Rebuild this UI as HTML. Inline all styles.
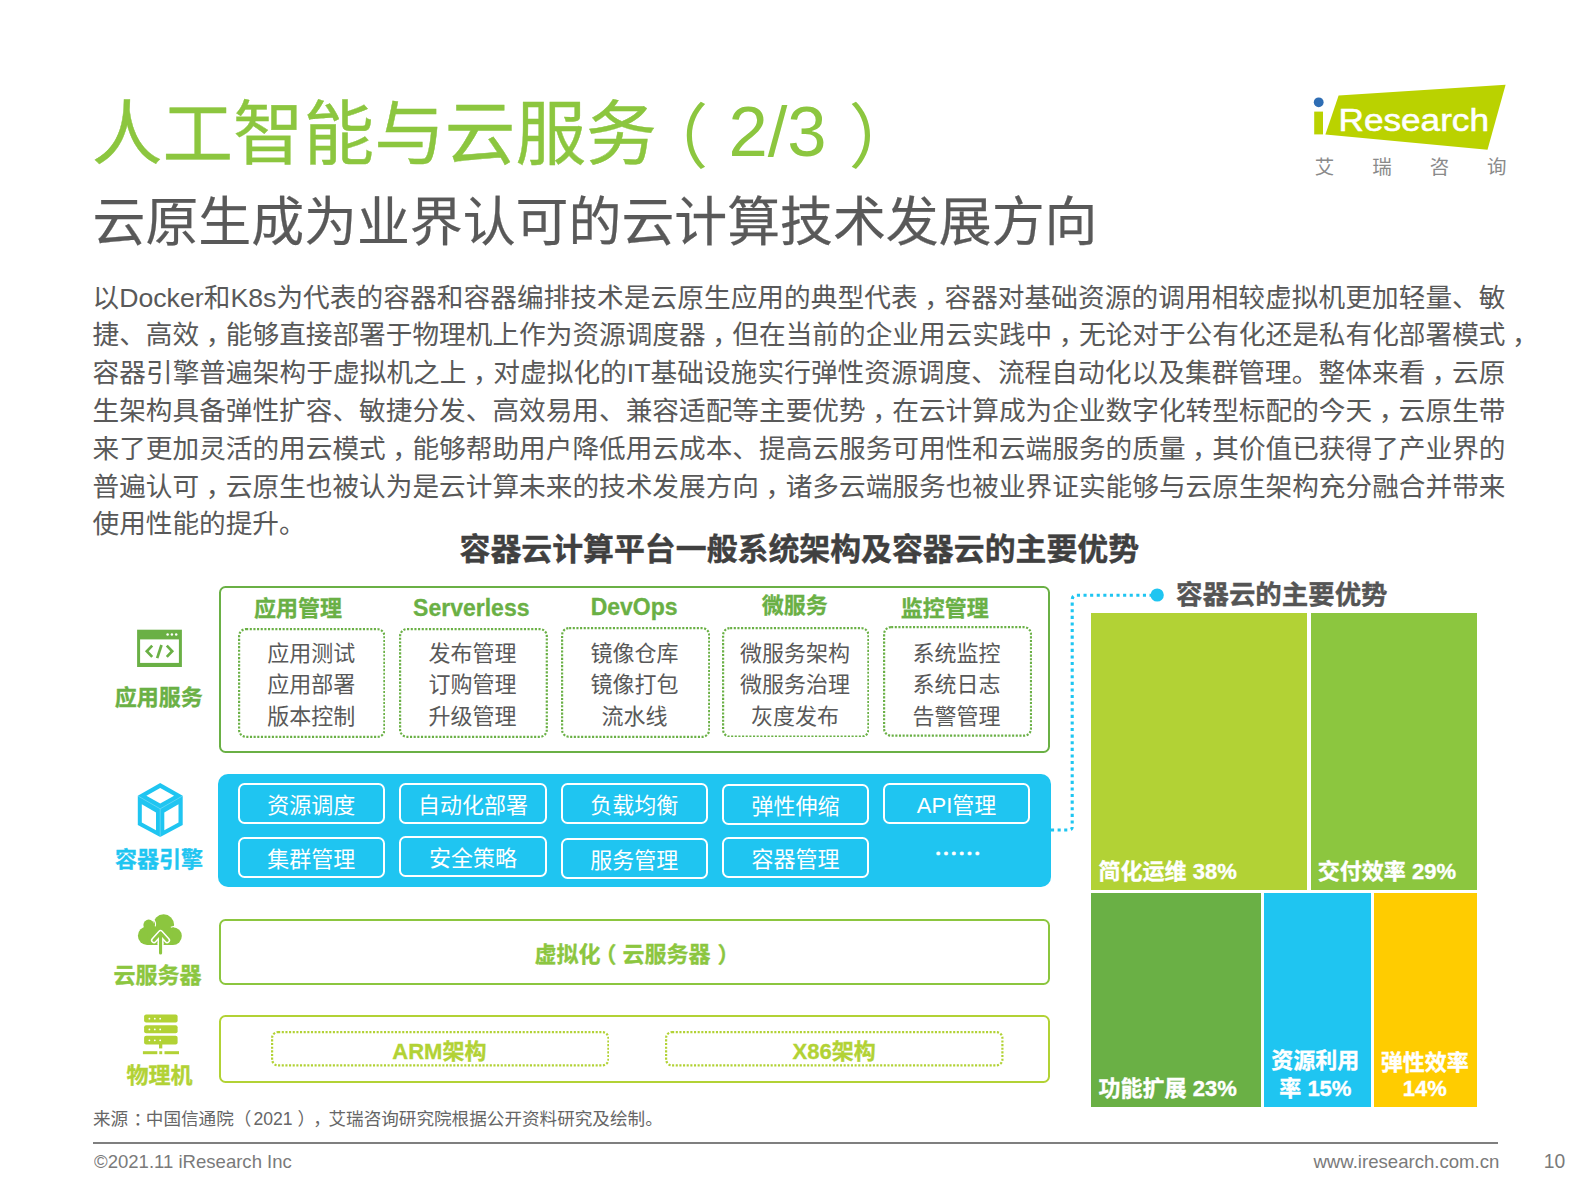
<!DOCTYPE html>
<html lang="zh-CN"><head><meta charset="utf-8"><title>人工智能与云服务（2/3）</title>
<style>
html,body{margin:0;padding:0;background:#fff;}
body{width:1587px;height:1190px;position:relative;overflow:hidden;font-family:"Liberation Sans","Noto Sans CJK SC",sans-serif;color:#595959;}
.a{position:absolute;white-space:nowrap;}
.bl{position:absolute;left:92.5px;width:1413px;height:38px;line-height:38px;font-size:26.65px;color:#595959;white-space:nowrap;}
.hd{position:absolute;-webkit-text-stroke-width:0.3px;font-weight:bold;font-size:22px;line-height:30px;height:30px;white-space:nowrap;text-align:center;}
.it{position:absolute;font-size:22px;line-height:31.7px;text-align:center;color:#595959;white-space:nowrap;}
.wb{position:absolute;box-sizing:border-box;border:2.2px solid #fff;border-radius:6.5px;color:#fff;font-size:22px;text-align:center;white-space:nowrap;}
.lab{position:absolute;-webkit-text-stroke-width:0.35px;font-weight:bold;font-size:22px;line-height:30px;height:30px;white-space:nowrap;text-align:center;}
.tile{position:absolute;}
.cm{position:relative;left:6.5px;}
.tl{position:absolute;color:#fff;-webkit-text-stroke-width:0.35px;font-weight:bold;font-size:22px;line-height:28px;white-space:nowrap;}
</style></head>
<body>
<div class="a" id="title" style="left:93px;top:84px;font-size:70.6px;line-height:96px;color:#8cc63f;"><span style="position:relative;left:-1.2px;top:2.5px;-webkit-text-stroke-width:0.4px">人工智能与云服务</span><span style="position:relative;left:-20px;top:6.3px">（</span>2/3<span style="position:relative;left:22px;top:6.3px">）</span></div>
<div class="a" id="subtitle" style="left:92.5px;top:187.3px;font-size:52.9px;line-height:72px;color:#595959;-webkit-text-stroke-width:0.25px;">云原生成为业界认可的云计算技术发展方向</div>
<svg class="a" id="logo" style="left:1300px;top:75px;" width="230" height="110" viewBox="1300 75 230 110">
<polygon points="1338.6,95.5 1505.6,84.8 1487.5,149.7 1325.4,134.4" fill="#bad200"/>
<polygon points="1314.2,111.6 1323,111.6 1323,134.4 1314.2,134.4" fill="#bad200"/>
<circle cx="1318.7" cy="102.3" r="4.9" fill="#2e6db4"/>
<text x="1338.5" y="130.6" font-family="'Liberation Sans',sans-serif" font-size="31.2" fill="#ffffff" stroke="#ffffff" stroke-width="0.55" textLength="150.5" lengthAdjust="spacingAndGlyphs">Research</text>
<text x="1314.85" y="174.2" font-family="'Noto Sans CJK SC',sans-serif" font-size="19.5" fill="#8a8a8a" letter-spacing="37.9">艾瑞咨询</text>
</svg>
<div class="bl" id="bl0" style="top:278.5px;text-align:justify;text-align-last:justify;">以Docker和K8s为代表的容器和容器编排技术是云原生应用的典型代表<span class="cm">，</span>容器对基础资源的调用相较虚拟机更加轻量、敏</div>
<div class="bl" id="bl1" style="top:316.3px;text-align:justify;text-align-last:justify;">捷、高效<span class="cm">，</span>能够直接部署于物理机上作为资源调度器<span class="cm">，</span>但在当前的企业用云实践中<span class="cm">，</span>无论对于公有化还是私有化部署模式<span style="position:absolute;left:100%;margin-left:6.5px;">，</span></div>
<div class="bl" id="bl2" style="top:354.1px;text-align:justify;text-align-last:justify;">容器引擎普遍架构于虚拟机之上<span class="cm">，</span>对虚拟化的IT基础设施实行弹性资源调度、流程自动化以及集群管理。整体来看<span class="cm">，</span>云原</div>
<div class="bl" id="bl3" style="top:391.9px;text-align:justify;text-align-last:justify;">生架构具备弹性扩容、敏捷分发、高效易用、兼容适配等主要优势<span class="cm">，</span>在云计算成为企业数字化转型标配的今天<span class="cm">，</span>云原生带</div>
<div class="bl" id="bl4" style="top:429.7px;text-align:justify;text-align-last:justify;">来了更加灵活的用云模式<span class="cm">，</span>能够帮助用户降低用云成本、提高云服务可用性和云端服务的质量<span class="cm">，</span>其价值已获得了产业界的</div>
<div class="bl" id="bl5" style="top:467.5px;text-align:justify;text-align-last:justify;">普遍认可<span class="cm">，</span>云原生也被认为是云计算未来的技术发展方向<span class="cm">，</span>诸多云端服务也被业界证实能够与云原生架构充分融合并带来</div>
<div class="bl" id="bl6" style="top:505.3px;">使用性能的提升。</div>
<div class="a" id="ctitle" style="left:459.5px;top:529.6px;font-size:30.9px;line-height:40px;font-weight:bold;-webkit-text-stroke-width:0.4px;color:#404040;">容器云计算平台一般系统架构及容器云的主要优势</div>
<div class="a" style="left:219px;top:585.6px;width:831px;height:167.6px;box-sizing:border-box;border:2px solid #6ab045;border-radius:6.5px;"></div>
<div class="hd" style="left:218.0px;top:593.5px;width:160px;color:#6ab045;font-size:22px;">应用管理</div>
<div class="hd" style="left:391.3px;top:592.8px;width:160px;color:#6ab045;font-size:23px;">Serverless</div>
<div class="hd" style="left:554.1px;top:591.8px;width:160px;color:#6ab045;font-size:23px;">DevOps</div>
<div class="hd" style="left:714.8px;top:591.0px;width:160px;color:#6ab045;font-size:22px;">微服务</div>
<div class="hd" style="left:864.7px;top:593.5px;width:160px;color:#6ab045;font-size:22px;">监控管理</div>
<svg class="a" style="left:237.7px;top:627.5px;" width="147.5" height="110.0"><rect x="1.1" y="1.1" width="145.3" height="107.8" rx="7" fill="none" stroke="#6ab045" stroke-width="2.2" stroke-dasharray="2.1 1.55"/></svg>
<div class="it" id="it0" style="left:237.7px;top:637.7px;width:147px;">应用测试<br>应用部署<br>版本控制</div>
<svg class="a" style="left:399.1px;top:628.2px;" width="148.9" height="109.9"><rect x="1.1" y="1.1" width="146.7" height="107.7" rx="7" fill="none" stroke="#6ab045" stroke-width="2.2" stroke-dasharray="2.1 1.55"/></svg>
<div class="it" id="it1" style="left:399.0px;top:637.7px;width:147px;">发布管理<br>订购管理<br>升级管理</div>
<svg class="a" style="left:560.7px;top:626.9px;" width="149.3" height="110.9"><rect x="1.1" y="1.1" width="147.1" height="108.7" rx="7" fill="none" stroke="#6ab045" stroke-width="2.2" stroke-dasharray="2.1 1.55"/></svg>
<div class="it" id="it2" style="left:561.0px;top:637.7px;width:147px;">镜像仓库<br>镜像打包<br>流水线</div>
<svg class="a" style="left:721.6px;top:626.6px;" width="147.5" height="110.8"><rect x="1.1" y="1.1" width="145.3" height="108.6" rx="7" fill="none" stroke="#6ab045" stroke-width="2.2" stroke-dasharray="2.1 1.55"/></svg>
<div class="it" id="it3" style="left:721.6px;top:637.7px;width:147px;">微服务架构<br>微服务治理<br>灰度发布</div>
<svg class="a" style="left:882.7px;top:626.2px;" width="149.1" height="110.8"><rect x="1.1" y="1.1" width="146.9" height="108.6" rx="7" fill="none" stroke="#6ab045" stroke-width="2.2" stroke-dasharray="2.1 1.55"/></svg>
<div class="it" id="it4" style="left:883.0px;top:637.7px;width:147px;">系统监控<br>系统日志<br>告警管理</div>
<div class="a" style="left:218.3px;top:773.8px;width:832.7px;height:113.2px;background:#1fc5f1;border-radius:10px;"></div>
<div class="wb" style="left:237.6px;top:782.9px;width:147.2px;height:41px;line-height:41.4px;">资源调度</div>
<div class="wb" style="left:399.4px;top:782.9px;width:147.2px;height:41px;line-height:41.4px;">自动化部署</div>
<div class="wb" style="left:560.7px;top:783.2px;width:147.2px;height:41px;line-height:41.4px;">负载均衡</div>
<div class="wb" style="left:721.8px;top:784.0px;width:147.2px;height:41px;line-height:41.4px;">弹性伸缩</div>
<div class="wb" style="left:883.0px;top:782.7px;width:147.2px;height:41px;line-height:41.4px;">API管理</div>
<div class="wb" style="left:237.6px;top:837.1px;width:147.2px;height:41px;line-height:41.4px;">集群管理</div>
<div class="wb" style="left:399.4px;top:836.1px;width:147.2px;height:41px;line-height:41.4px;">安全策略</div>
<div class="wb" style="left:560.7px;top:838.1px;width:147.2px;height:41px;line-height:41.4px;">服务管理</div>
<div class="wb" style="left:721.8px;top:837.4px;width:147.2px;height:41px;line-height:41.4px;">容器管理</div>
<div class="a" id="ell" style="left:934.3px;top:836.5px;color:#fff;-webkit-text-stroke-width:0.7px;font-size:23.4px;line-height:30px;font-family:'Noto Sans CJK SC',sans-serif;">……</div>
<div class="a" style="left:219.2px;top:919.3px;width:831.2px;height:66.2px;box-sizing:border-box;border:2.2px solid #8cc63f;border-radius:6.5px;"></div>
<div class="hd" id="vt" style="left:483.6px;top:939.8px;width:300px;color:#8cc63f;">虚拟化<span style="position:relative;left:-6px">（</span>云服务器<span style="position:relative;left:7px">）</span></div>
<div class="a" style="left:219.2px;top:1015px;width:831.2px;height:68.4px;box-sizing:border-box;border:2.2px solid #b2d235;border-radius:6.5px;"></div>
<svg class="a" style="left:270.5px;top:1031.0px;" width="338.5" height="35.5"><rect x="1.1" y="1.1" width="336.3" height="33.3" rx="6" fill="none" stroke="#b2d235" stroke-width="2.2" stroke-dasharray="2.1 1.55"/></svg>
<svg class="a" style="left:665.3px;top:1031.0px;" width="338.5" height="35.5"><rect x="1.1" y="1.1" width="336.3" height="33.3" rx="6" fill="none" stroke="#b2d235" stroke-width="2.2" stroke-dasharray="2.1 1.55"/></svg>
<div class="hd" id="arm" style="left:289.4px;top:1037.2px;width:300px;color:#b2d235;">ARM架构</div>
<div class="hd" id="x86" style="left:684.2px;top:1037.2px;width:300px;color:#b2d235;">X86架构</div>
<div class="lab" id="lab0" style="left:98.7px;top:682.9px;width:120px;color:#6ab045;">应用服务</div>
<div class="lab" id="lab1" style="left:99.0px;top:845.0px;width:120px;color:#1fc5f1;">容器引擎</div>
<div class="lab" id="lab2" style="left:97.4px;top:961.2px;width:120px;color:#8cc63f;">云服务器</div>
<div class="lab" id="lab3" style="left:99.6px;top:1060.6px;width:120px;color:#b2d235;">物理机</div>
<svg class="a" style="left:130px;top:620px;" width="60" height="55" viewBox="130 620 60 55">
<rect x="137.1" y="629.7" width="44.8" height="37.3" fill="#6ab045"/>
<rect x="140.1" y="639.4" width="38.8" height="23.5" fill="#fff"/>
<circle cx="167.6" cy="634.4" r="1.25" fill="#fff"/><circle cx="171.9" cy="634.4" r="1.25" fill="#fff"/><circle cx="176.2" cy="634.4" r="1.25" fill="#fff"/>
<g fill="none" stroke="#6ab045" stroke-width="2.7" stroke-linejoin="miter">
<polyline points="152.2,645.6 146.8,651.2 152.2,656.9"/>
<line x1="161.5" y1="645" x2="157.2" y2="658.2"/>
<polyline points="166.8,645.6 172.2,651.2 166.8,656.9"/>
</g></svg>
<svg class="a" style="left:130px;top:775px;" width="60" height="70" viewBox="130 775 60 70">
<polygon points="160.2,782.9 182.7,795.7 182.7,825 160.2,837.1 137.8,825 137.8,795.7" fill="#1fc5f1"/>
<polygon points="160.2,788 174.1,795.7 160.2,803.5 146.4,795.7" fill="#fff"/>
<polygon points="141.8,804.3 156,812.4 156,830.3 141.8,822.4" fill="#fff"/>
<polygon points="164.3,812.4 178.5,804.3 178.5,822.4 164.3,830.3" fill="#fff"/>
<g stroke="#fff" stroke-width="0.35" opacity="0.8"><line x1="160.2" y1="808.8" x2="137.8" y2="795.9"/><line x1="160.2" y1="808.8" x2="182.7" y2="795.9"/><line x1="160.2" y1="808.8" x2="160.2" y2="837"/></g>
</svg>
<svg class="a" style="left:130px;top:905px;" width="60" height="55" viewBox="130 905 60 55">
<g fill="#8cc63f">
<circle cx="163.6" cy="924.8" r="10.5"/>
<circle cx="148.7" cy="924.9" r="5.3"/>
<circle cx="147.1" cy="935.8" r="9.2"/>
<circle cx="172.9" cy="936.1" r="8.9"/>
<rect x="147.1" y="926" width="25.8" height="19"/>
</g>
<path d="M152.95,919.3 A6.8,6.8 0 0 1 155.3,926.4" fill="none" stroke="#fff" stroke-width="1.1"/>
<path d="M170.8,927.2 L174.6,926.3" fill="none" stroke="#fff" stroke-width="1.1"/>
<g fill="none" stroke-linecap="round" stroke-linejoin="round">
<polyline points="154.0,940.3 160.55,933.0 167.1,940.3" stroke="#fff" stroke-width="6.1"/>
<line x1="160.55" y1="934" x2="160.55" y2="943.5" stroke="#fff" stroke-width="6.1" stroke-linecap="butt"/>
<rect x="157.5" y="943" width="6.1" height="2" fill="#fff" stroke="none"/>
<polyline points="154.0,940.3 160.55,933.0 167.1,940.3" stroke="#8cc63f" stroke-width="3.1"/>
<line x1="160.55" y1="933.2" x2="160.55" y2="953" stroke="#8cc63f" stroke-width="3.1"/>
</g>
</svg>
<svg class="a" style="left:130px;top:1005px;" width="60" height="55" viewBox="130 1005 60 55">
<g fill="#b2d235">
<rect x="144.1" y="1014.6" width="33.5" height="7.8" rx="2"/>
<rect x="144.1" y="1025.2" width="33.5" height="8.1" rx="2"/>
<rect x="144.1" y="1035.8" width="33.5" height="8.6" rx="2"/>
<rect x="159" y="1044" width="3.3" height="4.4"/>
<rect x="142.9" y="1051.2" width="14.4" height="3"/>
<rect x="159.3" y="1051.2" width="2.9" height="3"/>
<rect x="164.5" y="1051.2" width="14.5" height="3"/>
</g><circle cx="149.4" cy="1018.7" r="0.9" fill="#fff"/><circle cx="154.8" cy="1018.7" r="0.9" fill="#fff"/><circle cx="160.2" cy="1018.7" r="0.9" fill="#fff"/><circle cx="149.4" cy="1029.4" r="0.9" fill="#fff"/><circle cx="154.8" cy="1029.4" r="0.9" fill="#fff"/><circle cx="160.2" cy="1029.4" r="0.9" fill="#fff"/><circle cx="149.4" cy="1040.3" r="0.9" fill="#fff"/><circle cx="154.8" cy="1040.3" r="0.9" fill="#fff"/><circle cx="160.2" cy="1040.3" r="0.9" fill="#fff"/>
</svg>
<svg class="a" style="left:1045px;top:580px;" width="130" height="260" viewBox="1045 580 130 260">
<path d="M1051,830 H1069 Q1072.2,830 1072.2,827 V600 Q1072.2,595.2 1077,595.2 H1152" fill="none" stroke="#1fc5f1" stroke-width="3.1" stroke-dasharray="3.1 3.5"/>
<circle cx="1157.2" cy="595" r="6.6" fill="#1fc5f1"/>
</svg>
<div class="a" id="rt" style="left:1176px;top:576.8px;font-size:26.45px;line-height:36px;font-weight:bold;-webkit-text-stroke-width:0.35px;color:#555;">容器云的主要优势</div>
<div class="tile" style="left:1090.7px;top:613.3px;width:216.4px;height:276.4px;background:#b2d235;"></div>
<div class="tile" style="left:1310.9px;top:613.3px;width:165.8px;height:276.4px;background:#8cc63f;"></div>
<div class="tile" style="left:1090.7px;top:893.4px;width:170.2px;height:213.4px;background:#6ab045;"></div>
<div class="tile" style="left:1264.4px;top:893.4px;width:106.5px;height:213.4px;background:#1fc5f1;"></div>
<div class="tile" style="left:1374.3px;top:893.4px;width:102.4px;height:213.4px;background:#ffcc00;"></div>
<div class="tl" id="tl0" style="left:1098.6px;top:857.5px;">简化运维 38%</div>
<div class="tl" id="tl1" style="left:1317.8px;top:857.5px;">交付效率 29%</div>
<div class="tl" id="tl2" style="left:1098.6px;top:1074.9px;">功能扩展 23%</div>
<div class="tl" id="tl3" style="left:1262.1px;top:1046.5px;width:106.5px;text-align:center;line-height:28.9px;">资源利用<br>率 15%</div>
<div class="tl" id="tl4" style="left:1373.6px;top:1049.6px;width:102.4px;text-align:center;line-height:26px;">弹性效率<br>14%</div>
<div class="a" id="src" style="left:93px;top:1106px;font-size:17.6px;line-height:26px;color:#666;">来源<span style="position:relative;left:5.3px">：</span>中国信通院（<span style="padding:0 5px 0 2px">2021</span>）<span style="position:relative;left:7px">，</span><span style="padding-left:4.5px">艾</span>瑞咨询研究院根据公开资料研究及绘制。</div>
<div class="a" style="left:93px;top:1142.4px;width:1405px;height:1.6px;background:#7f7f7f;"></div>
<div class="a" id="cp" style="left:93.5px;top:1150px;font-size:19px;line-height:24px;color:#7a7a7a;transform:scaleX(0.976);transform-origin:0 0;">©2021.11 iResearch Inc</div>
<div class="a" id="www" style="right:87.6px;top:1150px;font-size:18.6px;line-height:24px;color:#7a7a7a;">www.iresearch.com.cn</div>
<div class="a" id="pn" style="left:1543.8px;top:1148px;font-size:19.3px;line-height:28px;color:#7a7a7a;">10</div>
</body></html>
